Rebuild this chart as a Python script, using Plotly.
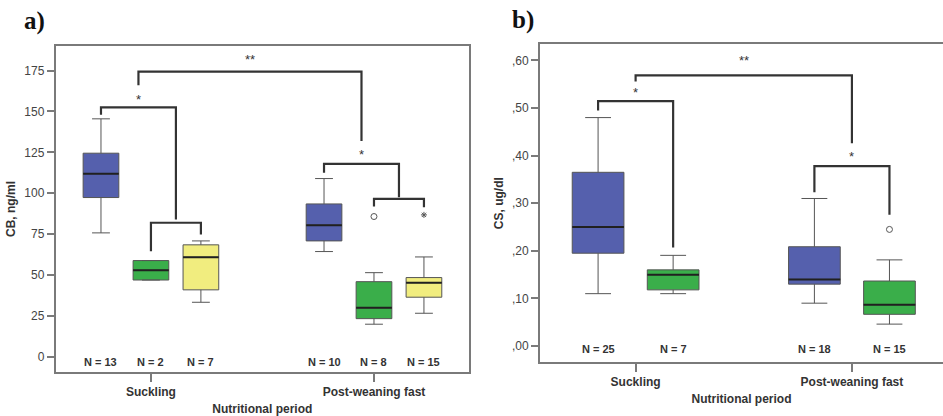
import plotly.graph_objects as go

# ---------------- data ----------------
periods = ["Suckling", "Post-weaning fast"]

# Panel a: CB, ng/ml  (three groups per period: blue, green, yellow)
cb_groups = ["blue", "green", "yellow"]
cb_n = [[13, 2, 7], [10, 8, 15]]
cb_lower = [[75.8, 47.0, 33.4], [64.4, 20.0, 26.7]]
cb_q1 = [[97.4, 47.0, 41.0], [70.9, 23.4, 36.5]]
cb_median = [[112.0, 53.0, 60.9], [80.5, 30.0, 45.4]]
cb_q3 = [[124.5, 58.9, 68.5], [93.5, 46.0, 48.5]]
cb_upper = [[145.5, 58.9, 70.9], [109.0, 51.5, 61.1]]
# (period index, group index, value, kind)
cb_outliers = [(1, 1, 85.8, "o"), (1, 2, 86.8, "*")]

# Panel b: CS, ug/dl  (two groups per period: blue, green)
cs_groups = ["blue", "green"]
cs_n = [[25, 7], [18, 15]]
cs_lower = [[0.110, 0.110], [0.090, 0.046]]
cs_q1 = [[0.195, 0.118], [0.130, 0.0666]]
cs_median = [[0.250, 0.150], [0.140, 0.0868]]
cs_q3 = [[0.365, 0.160], [0.2086, 0.1366]]
cs_upper = [[0.480, 0.1905], [0.310, 0.181]]
cs_outliers = [(1, 1, 0.245, "o")]

cs_ticks = [0.0, 0.1, 0.2, 0.3, 0.4, 0.5, 0.6]
cs_ticktext = [",00", ",10", ",20", ",30", ",40", ",50", ",60"]
cb_ticks = [0, 25, 50, 75, 100, 125, 150, 175]

# significance brackets: (x_left, y_left_end, x_right, y_right_end, y_bar, label, label_y)
# x is given as (period, slot) pairs; a fractional slot means a midpoint between boxes
cb_brackets = [
    ((0, 1), 64.6, (0, 2), 74.8, 82.0, "", None),
    ((0, 0), 148.0, (0, 1.5), 84.0, 152.5, "*", 157.5),
    ((1, 1), 92.0, (1, 2), 91.5, 96.6, "", None),
    ((1, 0), 112.5, (1, 1.5), 97.6, 118.0, "*", 124.0),
    ((0, 0.75), 166.0, (1, 0.75), 132.0, 174.4, "**", 182.0),
]
cs_brackets = [
    ((0, 0), 0.495, (0, 1), 0.207, 0.5147, "*", 0.532),
    ((1, 0), 0.323, (1, 1), 0.276, 0.378, "*", 0.399),
    ((0, 0.5), 0.556, (1, 0.5), 0.426, 0.5687, "**", 0.599),
]

# ---------------- style ----------------
colors = {"blue": "#5560ad", "green": "#3aae4a", "yellow": "#f1ed7f"}
FRAME = "#7a7a7a"
INK = "#333333"
W, H = 943, 416

fig = go.Figure()

# panel layout (slot spacing and box width in category units)
panels = [
    dict(xa="x", ya="y", groups=cb_groups, n=cb_n, lo=cb_lower, q1=cb_q1,
         med=cb_median, q3=cb_q3, hi=cb_upper, out=cb_outliers,
         brackets=cb_brackets, slot=0.224, bw=0.16, nshift=-5),
    dict(xa="x2", ya="y2", groups=cs_groups, n=cs_n, lo=cs_lower, q1=cs_q1,
         med=cs_median, q3=cs_q3, hi=cs_upper, out=cs_outliers,
         brackets=cs_brackets, slot=0.347, bw=0.239, nshift=-3),
]


def slot_x(p, period, slot):
    k = len(p["groups"])
    return period + (slot - (k - 1) / 2) * p["slot"]


annotations = []

for p in panels:
    for pi, period in enumerate(periods):
        for gi, g in enumerate(p["groups"]):
            x = slot_x(p, pi, gi)
            fig.add_trace(go.Box(
                x=[x], q1=[p["q1"][pi][gi]], median=[p["med"][pi][gi]],
                q3=[p["q3"][pi][gi]], lowerfence=[p["lo"][pi][gi]],
                upperfence=[p["hi"][pi][gi]], width=p["bw"], whiskerwidth=0.5,
                fillcolor=colors[g], line=dict(color="#555555", width=1),
                boxpoints=False, xaxis=p["xa"], yaxis=p["ya"],
                showlegend=False, hoverinfo="skip"))
            # heavier median line
            fig.add_trace(go.Scatter(
                x=[x - p["bw"] / 2, x + p["bw"] / 2],
                y=[p["med"][pi][gi]] * 2, mode="lines",
                line=dict(color="#202020", width=2),
                xaxis=p["xa"], yaxis=p["ya"], showlegend=False, hoverinfo="skip"))
            annotations.append(dict(
                x=x, y=0, xref=p["xa"], yref=p["ya"], yshift=p["nshift"],
                text=f"N = {p['n'][pi][gi]}", showarrow=False,
                font=dict(family="Liberation Sans, Arial", size=11, color=INK, weight="bold")))
    for (pi, gi, v, kind) in p["out"]:
        fig.add_trace(go.Scatter(
            x=[slot_x(p, pi, gi)], y=[v], mode="markers",
            marker=dict(symbol="circle-open" if kind == "o" else "asterisk-open",
                        size=6 if kind == "o" else 5, color="#555555",
                        line=dict(width=1, color="#555555")),
            xaxis=p["xa"], yaxis=p["ya"], showlegend=False, hoverinfo="skip"))
    for (l, yl, r, yr, ybar, lab, ylab) in p["brackets"]:
        xl = slot_x(p, *l)
        xr = slot_x(p, *r)
        fig.add_trace(go.Scatter(
            x=[xl, xl, xr, xr], y=[yl, ybar, ybar, yr], mode="lines",
            line=dict(color=INK, width=2.2),
            xaxis=p["xa"], yaxis=p["ya"], showlegend=False, hoverinfo="skip"))
        if lab:
            annotations.append(dict(
                x=(xl + xr) / 2, y=ylab, xref=p["xa"], yref=p["ya"], text=lab,
                showarrow=False, font=dict(family="Liberation Sans, Arial", size=13, color=INK)))

# panel letters
annotations += [
    dict(x=22 / W, y=1 - 21 / H, xref="paper", yref="paper", xanchor="left",
         yanchor="middle", text="<b>a)</b>", showarrow=False,
         font=dict(family="Liberation Serif, Times New Roman", size=25, color="#111")),
    dict(x=510 / W, y=1 - 20 / H, xref="paper", yref="paper", xanchor="left",
         yanchor="middle", text="<b>b)</b>", showarrow=False,
         font=dict(family="Liberation Serif, Times New Roman", size=25, color="#111")),
]

tickfont = dict(family="Liberation Sans, Arial", size=12, color="#444")
labfont = dict(family="Liberation Sans, Arial", size=12, color=INK, weight="bold")

common_x = dict(tickvals=[0, 1], ticktext=periods, ticks="outside", ticklen=8,
                tickcolor=FRAME, tickwidth=1.5, showline=True, linecolor=FRAME,
                linewidth=1.8, showgrid=False, zeroline=False, tickfont=labfont,
                title=dict(text="<b>Nutritional period</b>", font=labfont, standoff=6))
common_y = dict(ticks="outside", ticklen=7, tickcolor=FRAME, tickwidth=1.5,
                showline=True, linecolor=FRAME, linewidth=1.8, showgrid=False,
                zeroline=False, tickfont=tickfont)

fig.update_layout(
    width=W, height=H, margin=dict(l=0, r=0, t=0, b=0),
    paper_bgcolor="white", plot_bgcolor="white",
    xaxis=dict(domain=[55.7 / W, 469 / W], range=[-0.427, 1.426], mirror=True,
               anchor="y", **common_x),
    yaxis=dict(domain=[1 - 372 / H, 1 - 46 / H], range=[-9.2, 190], mirror=True,
               tickvals=cb_ticks, anchor="x",
               title=dict(text="<b>CB, ng/ml</b>", font=labfont, standoff=6),
               **common_y),
    xaxis2=dict(domain=[540 / W, 1.0], range=[-0.442, 1.421], mirror=True,
                anchor="y2", **common_x),
    yaxis2=dict(domain=[1 - 362 / H, 1 - 44.3 / H], range=[-0.0336, 0.634],
                tickvals=cs_ticks, ticktext=cs_ticktext, anchor="x2",
                title=dict(text="<b>CS, ug/dl</b>", font=labfont, standoff=6),
                **common_y),
    annotations=annotations,
)

fig.write_html("out.html")
